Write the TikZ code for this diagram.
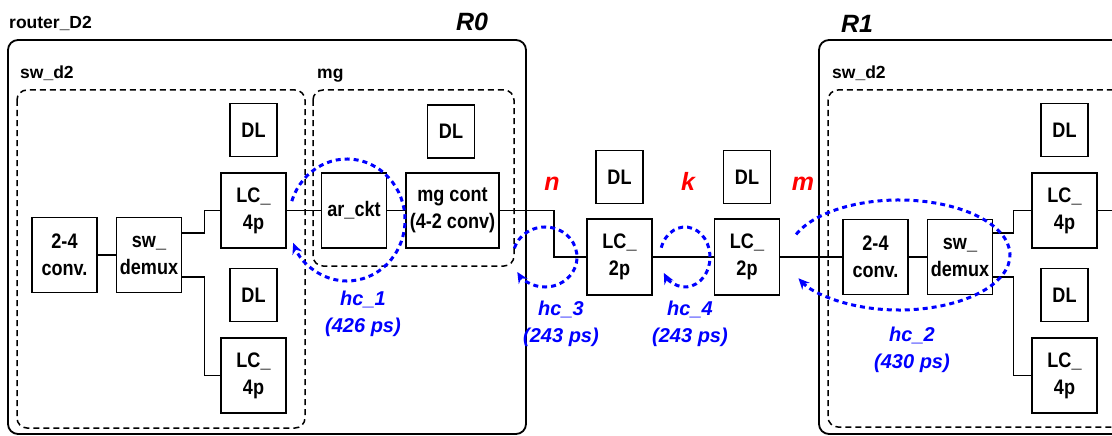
\documentclass[tikz,border=0pt]{standalone}
\usepackage{fontspec}
\setmainfont{Liberation Sans}
\newfontfamily\boxfont[FakeStretch=0.86]{Liberation Sans}
\usetikzlibrary{arrows.meta,positioning}

\begin{document}
\begin{tikzpicture}[
  x=1pt, y=-1pt, >=Stealth,
  blk/.style={draw, line width=1.5pt, fill=white, align=center, inner sep=0pt,
              minimum width=65pt, minimum height=75pt,
              font=\boxfont\bfseries\fontsize{21}{27}\selectfont},
  dl/.style={blk, minimum width=47pt, minimum height=53pt},
  wire/.style={line width=1.5pt},
  router/.style={draw, line width=1.8pt, rounded corners=10pt},
  part/.style={draw, line width=1.5pt, dash pattern=on 6pt off 4pt, rounded corners=10pt},
  hop/.style={blue, line width=3pt, dash pattern=on 5pt off 4pt,
              -{Stealth[length=11pt,width=10pt]}},
  hoplbl/.style={blue, align=center, font=\bfseries\itshape\fontsize{20}{27}\selectfont},
  lnk/.style={red, anchor=base, font=\bfseries\itshape\fontsize{25}{25}\selectfont},
  title/.style={anchor=base, font=\bfseries\itshape\fontsize{25}{25}\selectfont},
  tag/.style={anchor=base west, inner sep=0pt, font=\bfseries\fontsize{17.5}{20}\selectfont},
]
\clip (0,0) rectangle (1112,436);

\draw[router] (8,40) rectangle (526,434);
\draw[router] (819,40) rectangle (1140,434);
\draw[part] (17,90) rectangle (305,428);
\draw[part] (313,90) rectangle (514,266);
\draw[part] (828,90) rectangle (1140,427);

\node[tag] (rname) at (9,29) {router\_D2};
\node[title] (r0) at (472,31) {R0};
\node[title] (r1) at (857,33) {R1};
\node[tag] (swA) at (20,79) {sw\_d2};
\node[tag] (mgA) at (317,79) {mg};
\node[tag] (swB) at (832,79) {sw\_d2};

\node[blk] (convA) at (64.5,255) {2-4\\conv.};
\node[blk, right=18pt of convA] (dmxA) {sw\_\\demux};
\node[blk] (lcA) at (253.5,210.5) {LC\_\\4p};
\node[blk] (lcB) at (253.5,375.5) {LC\_\\4p};
\node[dl, above=15pt of lcA] (dlA) {DL};
\node[dl, above=15pt of lcB] (dlB) {DL};
\node[blk, right=34pt of lcA] (ack) {ar\_ckt};
\node[blk, right=18pt of ack, minimum width=93pt] (mgc) {mg cont\\(4-2 conv)};
\node[dl] (dlC) at (451,131.5) {DL};

\node[blk, minimum height=76pt] (lcC) at (619.5,257) {LC\_\\2p};
\node[blk, minimum height=76pt, right=61pt of lcC] (lcD) {LC\_\\2p};
\node[dl, above=14pt of lcC] (dlD) {DL};
\node[dl, above=14pt of lcD] (dlE) {DL};

\node[blk] (convB) at (875.5,257) {2-4\\conv.};
\node[blk, right=18pt of convB] (dmxB) {sw\_\\demux};
\node[blk] (lcE) at (1064.5,210.5) {LC\_\\4p};
\node[blk] (lcF) at (1064.5,375.5) {LC\_\\4p};
\node[dl, above=15pt of lcE] (dlF) {DL};
\node[dl, above=15pt of lcF] (dlG) {DL};
\coordinate (exit) at (1125,210.5);

\node[lnk] (lnkN) at (552,190) {n};
\node[lnk] (lnkK) at (688,190) {k};
\node[lnk] (lnkM) at (803,190) {m};

\draw[wire] (convA) -- (dmxA);
\draw[wire] ([yshift=22pt]dmxA.east) -- ++(22,0) |- (lcA.west);
\draw[wire] ([yshift=-22pt]dmxA.east) -- ++(22,0) |- (lcB.west);
\draw[wire] (lcA) -- (ack);
\draw[wire] (ack) -- (mgc);
\draw[wire] (mgc.east) -- ++(54,0) |- (lcC.west);
\draw[wire] (lcC) -- (lcD);
\draw[wire] (lcD) -- (convB);
\draw[wire] (convB) -- (dmxB);
\draw[wire] ([yshift=24pt]dmxB.east) -- ++(20,0) |- (lcE.west);
\draw[wire] ([yshift=-20pt]dmxB.east) -- ++(20,0) |- (lcF.west);
\draw[wire] (lcE) -- (exit);

\coordinate (h1) at (347,220);
\coordinate (h2) at (899,255);
\coordinate (h3) at (545,257);
\coordinate (h4) at (685,257);
\draw[hop] (h1) ++(162:58pt and 61pt)
  arc[start angle=162, end angle=-158, x radius=58pt, y radius=61pt];
\draw[hop] (h2) ++(158:111pt and 55pt)
  arc[start angle=158, end angle=-155, x radius=111pt, y radius=55pt];
\draw[hop] (h3) ++(163:32pt and 30pt)
  arc[start angle=163, end angle=-150, x radius=32pt, y radius=30pt];
\draw[hop] (h4) ++(162:25pt and 30pt)
  arc[start angle=162, end angle=-148, x radius=25pt, y radius=30pt];

\node[hoplbl] (d1) at (363,314) {hc\_1\\(426 ps)};
\node[hoplbl] (d2) at (912,350) {hc\_2\\(430 ps)};
\node[hoplbl] (d3) at (561,324) {hc\_3\\(243 ps)};
\node[hoplbl] (d4) at (690,324) {hc\_4\\(243 ps)};
\end{tikzpicture}
\end{document}
